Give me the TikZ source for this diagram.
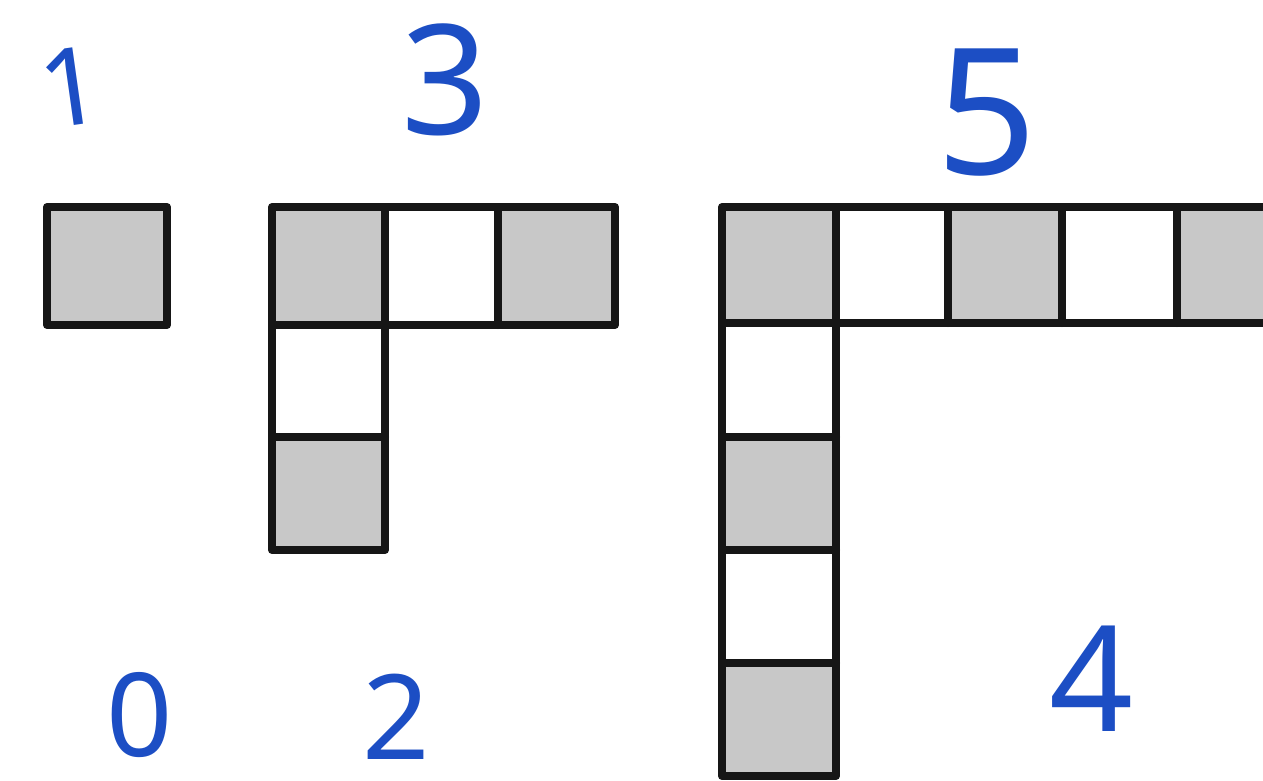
\documentclass[tikz,border=0pt]{standalone}
\usepackage{fontspec}
\setmainfont{Noto Sans}
\definecolor{ink}{RGB}{28,78,196}
\definecolor{cellgray}{RGB}{200,200,200}
\definecolor{gridline}{RGB}{22,22,22}
\begin{document}
\begin{tikzpicture}[x=1pt,y=-1pt,
  grid/.style={draw=gridline,line width=8pt,line join=round,line cap=round},
  shade/.style={fill=cellgray},
  digit/.style={text=ink,inner sep=0pt,font=#1},
]
\useasboundingbox (0,0) rectangle (1263,781);
\fill[white] (0,0) rectangle (1263,781);
\begin{scope}
\clip (0,0) rectangle (1263,781);
% shape 1
\fill[shade] (47,207) rectangle (167,325);
\draw[grid] (47,207) rectangle (167,325);
% shape 2
\fill[shade] (272,207) rectangle (385,325);
\fill[shade] (498,207) rectangle (615,325);
\fill[shade] (272,437) rectangle (385,550);
\draw[grid] (272,207) -- (615,207) -- (615,325) -- (385,325) -- (385,550) -- (272,550) -- cycle;
\draw[grid] (385,207) -- (385,325);
\draw[grid] (498,207) -- (498,325);
\draw[grid] (272,325) -- (385,325);
\draw[grid] (272,437) -- (385,437);
% shape 3
\fill[shade] (722,207) rectangle (836,323);
\fill[shade] (948,207) rectangle (1062,323);
\fill[shade] (1177,207) rectangle (1300,323);
\fill[shade] (722,437) rectangle (836,550);
\fill[shade] (722,663) rectangle (836,776);
\draw[grid] (1300,207) -- (722,207) -- (722,776) -- (836,776) -- (836,323) -- (1300,323);
\draw[grid] (836,207) -- (836,323);
\draw[grid] (948,207) -- (948,323);
\draw[grid] (1062,207) -- (1062,323);
\draw[grid] (1177,207) -- (1177,323);
\draw[grid] (722,323) -- (836,323);
\draw[grid] (722,437) -- (836,437);
\draw[grid] (722,550) -- (836,550);
\draw[grid] (722,663) -- (836,663);
\end{scope}
% labels
\node[digit={\fontsize{108}{108}\selectfont},rotate=8] (l1) at (71,87) {1};
\node[digit={\fontsize{153}{153}\selectfont}] (l3) at (445,80) {3};
\node[digit={\fontsize{176}{176}\selectfont}] (l5) at (987,113) {5};
\node[digit={\fontsize{116}{116}\selectfont}] (l0) at (140,715) {0};
\node[digit={\fontsize{118}{118}\selectfont}] (l2) at (396,717) {2};
\node[digit={\fontsize{147}{147}\selectfont}] (l4) at (1092,679) {4};
\end{tikzpicture}
\end{document}
